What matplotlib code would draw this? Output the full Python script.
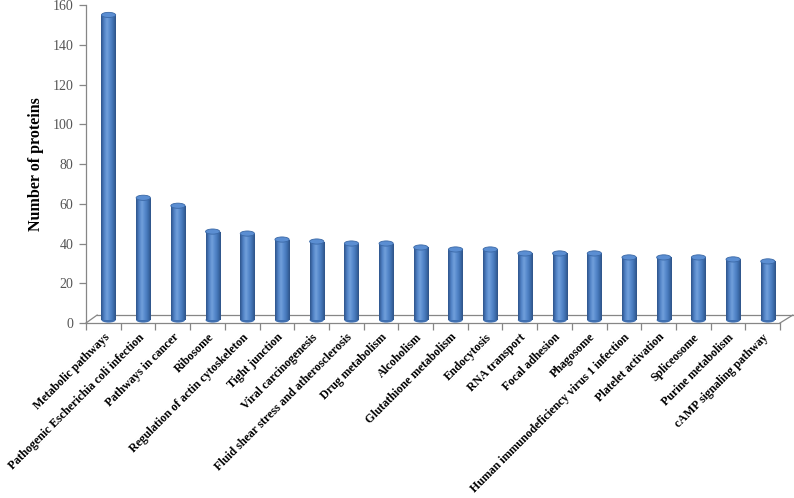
import matplotlib
matplotlib.use("Agg")
import matplotlib.pyplot as plt
import numpy as np
from matplotlib.colors import LinearSegmentedColormap
from matplotlib.patches import Ellipse

pathways = [
    "Metabolic pathways",
    "Pathogenic Escherichia coli infection",
    "Pathways in cancer",
    "Ribosome",
    "Regulation of actin cytoskeleton",
    "Tight junction",
    "Viral carcinogenesis",
    "Fluid shear stress and atherosclerosis",
    "Drug metabolism",
    "Alcoholism",
    "Glutathione metabolism",
    "Endocytosis",
    "RNA transport",
    "Focal adhesion",
    "Phagosome",
    "Human immunodeficiency virus 1 infection",
    "Platelet activation",
    "Spliceosome",
    "Purine metabolism",
    "cAMP signaling pathway",
]
protein_counts = [153, 61, 57, 44, 43, 40, 39, 38, 38, 36,
                  35, 35, 33, 33, 33, 31, 31, 31, 30, 29]
y_ticks = [0, 20, 40, 60, 80, 100, 120, 140, 160]

W, H = 794, 498
fig = plt.figure(figsize=(W / 100, H / 100), dpi=100)
ax = fig.add_axes([86 / W, (H - 323) / H, (780 - 86) / W, (323 - 5) / H])

serif = ["Liberation Serif", "DejaVu Serif"]
grey = "#868686"

# cylinder shading, left to right
cyl = LinearSegmentedColormap.from_list(
    "cyl", ["#2d5389", "#4f80c4", "#72a0dc", "#5689cc", "#4172b3", "#2d5286"])
grad = np.linspace(0, 1, 64).reshape(1, -1)

n = len(pathways)
x = np.arange(n) + 0.5
shift_x, shift_y = 0.15, 2.0   # bars sit mid-depth of the 3D floor
base = 1.5
w = 0.41
cap = 2.6

bars = ax.bar(x + shift_x, np.array(protein_counts) + shift_y - base, width=w,
              bottom=base, color="#4a7ebb", linewidth=0, zorder=3)
for b in bars:
    x0, y0 = b.get_x(), b.get_y()
    x1, y1 = x0 + b.get_width(), y0 + b.get_height()
    im = ax.imshow(grad, cmap=cyl, aspect="auto", extent=(x0, x1, y0, y1),
                   zorder=3.1, interpolation="bicubic")
    im.set_clip_path(b)
    xc = x0 + b.get_width() / 2
    ax.add_patch(Ellipse((xc, y0), b.get_width(), cap, facecolor="#3f6fb0",
                         edgecolor="none", zorder=2.9))
    ax.add_patch(Ellipse((xc, y1), b.get_width(), cap, facecolor="#5b8ed2",
                         edgecolor="#3a68a6", linewidth=0.6, zorder=3.3))

# 3D floor outline
depth_x, depth_y = 0.32, 4.0
kw = dict(color=grey, linewidth=0.9, clip_on=False, zorder=2)
ax.plot([0, n], [0, 0], **kw)
ax.plot([depth_x, n + 0.37], [depth_y, depth_y], **kw)
ax.plot([0, depth_x], [0, depth_y], **kw)
ax.plot([n, n + 0.37], [0, depth_y], **kw)

ax.set_xlim(0, n)
ax.set_ylim(0, 160)
ax.set_yticks(y_ticks)
ax.set_yticklabels([str(t) for t in y_ticks], fontfamily=serif, fontsize=10,
                   color="#555555")
ax.tick_params(axis="y", length=5, color=grey, width=0.9, pad=4)

ax.set_xticks(np.arange(n + 1))
ax.set_xticklabels([])
ax.tick_params(axis="x", which="major", length=5, color=grey, width=0.9)
ax.set_xticks(x, minor=True)
ax.set_xticklabels(pathways, minor=True, rotation=45, ha="right",
                   rotation_mode="anchor", fontfamily=serif,
                   fontweight="bold", fontsize=8.6)
ax.tick_params(axis="x", which="minor", length=0, pad=6)

for side in ["top", "right", "bottom"]:
    ax.spines[side].set_visible(False)
ax.spines["left"].set_color(grey)
ax.spines["left"].set_linewidth(0.9)

ax.set_ylabel("Number of proteins", fontfamily=serif, fontweight="bold",
              fontsize=11.5, labelpad=6)

fig.savefig("out.png", dpi=100)
